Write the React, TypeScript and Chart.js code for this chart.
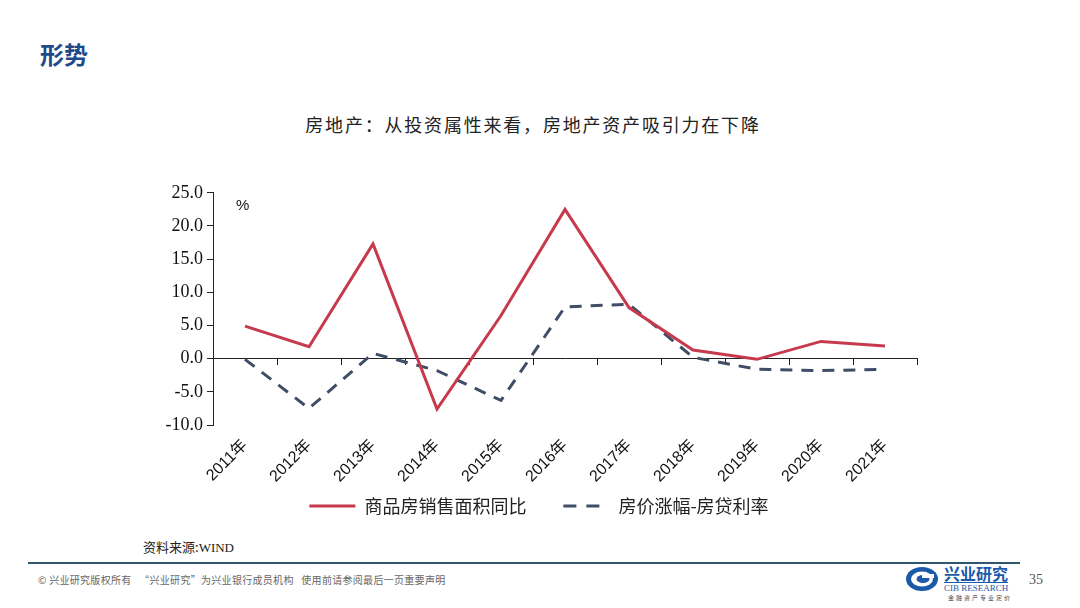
import React, { useEffect, useRef } from "react";
import { Chart, registerables } from "chart.js";

Chart.register(...registerables);

const categories = ["2011年", "2012年", "2013年", "2014年", "2015年", "2016年", "2017年", "2018年", "2019年", "2020年", "2021年"];
const salesAreaYoY = [4.9, 1.8, 17.3, -7.6, 6.5, 22.5, 7.7, 1.3, -0.1, 2.6, 1.9];
const priceMinusRate = [-0.1, -7.5, 0.8, -1.8, -6.3, 7.8, 8.2, 0.2, -1.6, -1.8, -1.6];
const seriesNames = ["商品房销售面积同比", "房价涨幅-房贷利率"];
const yTicks = { min: -10, max: 25, step: 5 };

const RED = "#C73A4E";
const BLUE = "#3F4D66";

export default function App() {
  const ref = useRef<HTMLCanvasElement | null>(null);

  useEffect(() => {
    document.body.style.margin = "0";
    const canvas = ref.current;
    if (!canvas) return;
    const chart = new Chart(canvas, {
      type: "line",
      data: {
        labels: categories,
        datasets: [
          {
            label: seriesNames[0],
            data: salesAreaYoY,
            borderColor: RED,
            backgroundColor: RED,
            borderWidth: 3,
            pointRadius: 0,
            tension: 0,
          },
          {
            label: seriesNames[1],
            data: priceMinusRate,
            borderColor: BLUE,
            backgroundColor: BLUE,
            borderWidth: 3,
            borderDash: [12, 9],
            pointRadius: 0,
            tension: 0,
          },
        ],
      },
      options: {
        animation: false,
        responsive: false,
        maintainAspectRatio: false,
        layout: { padding: { top: 14, right: 13, left: 21, bottom: 0 } },
        scales: {
          x: {
            type: "category",
            offset: true,
            position: "bottom",
            grid: { display: false },
            border: { display: false },
            ticks: {
              minRotation: 45,
              maxRotation: 45,
              padding: 3,
              color: "#111",
              font: { family: "'Liberation Sans', 'Noto Sans CJK SC'", size: 16 },
            },
            afterFit: (s: any) => {
              s.height = 62;
            },
          },
          x2: {
            type: "category",
            offset: true,
            position: { y: 0 } as any,
            grid: { drawOnChartArea: false, offset: true, tickLength: 6, color: "#222", lineWidth: 1 },
            border: { display: true, color: "#222", width: 1 },
            ticks: { display: false },
          },
          y: {
            min: yTicks.min,
            max: yTicks.max,
            grid: { drawOnChartArea: false, tickLength: 6, color: "#222" },
            border: { display: true, color: "#222", width: 1 },
            ticks: {
              stepSize: yTicks.step,
              padding: 4,
              color: "#111",
              font: { family: "'Liberation Serif'", size: 18 },
              callback: (v: any) => Number(v).toFixed(1),
            },
            afterFit: (s: any) => {
              s.width = 52;
            },
          },
        },
        plugins: {
          title: { display: false },
          tooltip: { enabled: false },
          legend: {
            display: true,
            position: "bottom",
            labels: {
              usePointStyle: true,
              pointStyle: "line",
              pointStyleWidth: 46,
              padding: 10,
              color: "#222",
              font: { family: "'Noto Sans CJK SC'", size: 18 },
              generateLabels: (c: any) => {
                const items = Chart.defaults.plugins.legend.labels.generateLabels(c);
                items.forEach((it: any, i: number) => {
                  it.pointStyle = "line";
                  it.lineWidth = 3;
                  it.lineDash = i === 1 ? [13, 10] : [];
                  if (i === 0) it.text = it.text + "\u3000\u2002";
                });
                return items;
              },
            },
          },
        },
      },
    });
    return () => chart.destroy();
  }, []);

  return (
    <div style={{ position: "fixed", left: 0, top: 0, width: 1080, height: 608, background: "#fff", overflow: "hidden", fontFamily: "'Noto Sans CJK SC', sans-serif" }}>
      <div style={{ position: "absolute", left: 40, top: 38, fontSize: 24, fontWeight: 700, color: "#1F4A8A", lineHeight: "32px" }}>形势</div>
      <div style={{ position: "absolute", left: 0, width: 1066, top: 110, textAlign: "center", fontSize: 18, letterSpacing: 1.8, color: "#222", lineHeight: "28px" }}>
        房地产：从投资属性来看，房地产资产吸引力在下降
      </div>
      <canvas ref={ref} width={790} height={347} style={{ position: "absolute", left: 140, top: 178, width: 790, height: 347 }} />
      <div style={{ position: "absolute", left: 236, top: 196, fontSize: 15, color: "#111", fontFamily: "'Liberation Sans'" }}>%</div>
      <div style={{ position: "absolute", left: 143, top: 538, fontSize: 13, color: "#222", lineHeight: "18px" }}>
        资料来源:<span style={{ fontFamily: "'Liberation Serif'" }}>WIND</span>
      </div>
      <div style={{ position: "absolute", left: 28, top: 562, width: 992, height: 1.5, background: "#2E566F" }} />
      <div style={{ position: "absolute", left: 38, top: 573, fontSize: 10, letterSpacing: 0.3, color: "#666", lineHeight: "14px", whiteSpace: "nowrap" }}>
        © 兴业研究版权所有&nbsp;&nbsp;&nbsp;“兴业研究”为兴业银行成员机构&nbsp;&nbsp;&nbsp;使用前请参阅最后一页重要声明
      </div>
      <svg style={{ position: "absolute", left: 905, top: 566 }} width={34} height={26} viewBox="0 0 34 26">
        <ellipse cx={17} cy={13} rx={16} ry={12} fill="#1B5AA8" />
        <ellipse cx={17} cy={13} rx={11} ry={7.5} fill="#fff" />
        <ellipse cx={18} cy={13} rx={6.5} ry={4} fill="#1B5AA8" />
        <rect x={17} y={8} width={12} height={4} fill="#fff" />
      </svg>
      <div style={{ position: "absolute", left: 944, top: 563, fontSize: 16, fontWeight: 700, color: "#1B5AA8", lineHeight: "20px", letterSpacing: 0 }}>兴业研究</div>
      <div style={{ position: "absolute", left: 944, top: 582, fontSize: 9, color: "#1B5AA8", lineHeight: "11px", fontFamily: "'Liberation Serif'", borderTop: "1px solid #1B5AA8" }}>CIB RESEARCH</div>
      <div style={{ position: "absolute", left: 948, top: 594, fontSize: 6, color: "#444", lineHeight: "8px", letterSpacing: 2 }}>金融资产专业定价</div>
      <div style={{ position: "absolute", left: 1029, top: 572, fontSize: 14, color: "#555", fontFamily: "'Liberation Serif'" }}>35</div>
    </div>
  );
}
